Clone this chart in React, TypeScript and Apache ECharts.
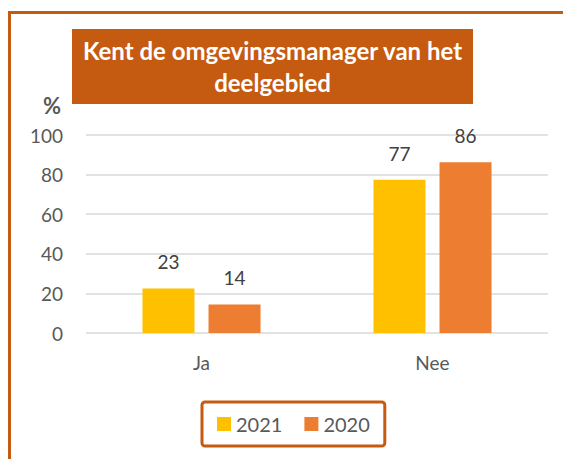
import React, { useEffect, useRef } from "react";
import * as echarts from "echarts";

const categories = ["Ja", "Nee"];
const seriesNames = ["2021", "2020"];
const values2021 = [22.5, 77.4];
const values2020 = [14.4, 86.2];
const yTicks = { min: 0, max: 100, interval: 20 };
const titleLines = ["Kent de omgevingsmanager van het", "deelgebied"];

const FONT = "Lato, 'Open Sans', sans-serif";
const DARK_ORANGE = "#C55A11";

export default function App() {
  const ref = useRef<HTMLDivElement>(null);
  useEffect(() => {
    document.body.style.margin = "0";
    const chart = echarts.init(ref.current!, null, { renderer: "svg" });
    chart.setOption({
      animation: false,
      backgroundColor: "#ffffff",
      textStyle: { fontFamily: FONT },
      grid: { left: 86, right: 15, top: 135, bottom: 126 },
      legend: {
        data: seriesNames,
        left: 202,
        top: 402,
        icon: "rect",
        itemWidth: 14,
        itemHeight: 14,
        itemGap: 22,
        padding: [12, 15],
        borderColor: DARK_ORANGE,
        borderWidth: 3,
        borderRadius: 3,
        textStyle: { fontSize: 20, color: "#595959", fontFamily: FONT },
      },
      xAxis: {
        type: "category",
        data: categories,
        axisLine: { show: false },
        axisTick: { show: false },
        axisLabel: { fontSize: 19, color: "#595959", margin: 20, fontFamily: FONT },
      },
      yAxis: {
        type: "value",
        min: yTicks.min,
        max: yTicks.max,
        interval: yTicks.interval,
        axisLine: { show: false },
        axisTick: { show: false },
        axisLabel: { fontSize: 19, color: "#595959", margin: 23, fontFamily: FONT },
        splitLine: { lineStyle: { color: "#d9d9d9", width: 1.5 } },
      },
      series: [
        {
          name: seriesNames[0],
          type: "bar",
          data: values2021,
          barWidth: 52,
          barGap: "27%",
          itemStyle: { color: "#FFC000" },
          label: {
            show: true,
            position: "top",
            distance: 17,
            fontSize: 19,
            color: "#404040",
            fontFamily: FONT,
            formatter: (p: any) => String(Math.round(p.value)),
          },
        },
        {
          name: seriesNames[1],
          type: "bar",
          data: values2020,
          barWidth: 52,
          itemStyle: { color: "#ED7D31" },
          label: {
            show: true,
            position: "top",
            distance: 17,
            fontSize: 19,
            color: "#404040",
            fontFamily: FONT,
            formatter: (p: any) => String(Math.round(p.value)),
          },
        },
      ],
      graphic: [
        {
          type: "rect",
          shape: { x: 9.5, y: 12.5, width: 700, height: 600 },
          style: { fill: "none", stroke: DARK_ORANGE, lineWidth: 3 },
          silent: true,
        },
        {
          type: "rect",
          shape: { x: 72, y: 29, width: 401, height: 75 },
          style: { fill: DARK_ORANGE },
          silent: true,
        },
        {
          type: "text",
          x: 272.5,
          y: 66.5,
          style: {
            text: titleLines.join("\n"),
            fill: "#ffffff",
            font: `bold 24px ${FONT}`,
            align: "center",
            verticalAlign: "middle",
            lineHeight: 32,
          },
          silent: true,
        },
        {
          type: "text",
          x: 52,
          y: 105,
          style: {
            text: "%",
            fill: "#595959",
            font: `bold 22px ${FONT}`,
            align: "center",
            verticalAlign: "middle",
          },
          silent: true,
        },
      ],
    });
    return () => chart.dispose();
  }, []);
  return <div ref={ref} style={{ width: 563, height: 459 }} />;
}
